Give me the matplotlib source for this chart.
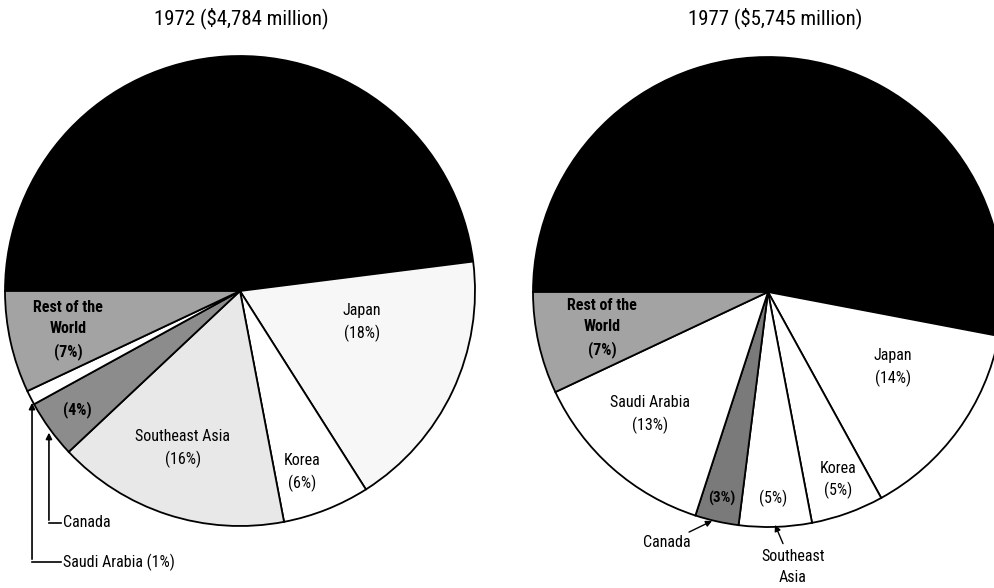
import matplotlib
matplotlib.use("Agg")
import matplotlib.pyplot as plt
from matplotlib import font_manager

# prefer a condensed face if one is installed
cands = ['Liberation Sans Narrow', 'DejaVu Sans Condensed', 'Roboto Condensed', 'Open Sans Condensed']
names = {f.name for f in font_manager.fontManager.ttflist}
fam = [c for c in cands if c in names] + ['DejaVu Sans']
plt.rcParams['font.family'] = fam
plt.rcParams['font.stretch'] = 'condensed'

# ---- data ----
categories = ["Other", "Japan", "Korea", "Southeast Asia", "Canada", "Saudi Arabia", "Rest of the World"]
shares_1972 = [48, 18, 6, 16, 4, 1, 7]
shares_1977 = [53, 14, 5, 5, 3, 13, 7]
title_1972 = "1972 ($4,784 million)"
title_1977 = "1977 ($5,745 million)"

colors_1972 = ["#000000", "#f7f7f7", "#ffffff", "#e8e8e8", "#8c8c8c", "#ffffff", "#a3a3a3"]
colors_1977 = ["#000000", "#ffffff", "#ffffff", "#ffffff", "#7a7a7a", "#ffffff", "#a3a3a3"]

W, H = 995, 588
fig = plt.figure(figsize=(W / 100, H / 100), dpi=100)
R = 235


def make_ax(cx, cy):
    ax = fig.add_axes([(cx - R) / W, (H - cy - R) / H, 2 * R / W, 2 * R / H])
    ax.set_xlim(-1, 1)
    ax.set_ylim(-1, 1)
    ax.set_aspect('equal')
    ax.axis('off')
    return ax


wp = dict(edgecolor='black', linewidth=1.3)
fs = 11.5

# ---- 1972 ----
ax1 = make_ax(240, 291)
ax1.pie(shares_1972, colors=colors_1972, startangle=180, counterclock=False,
        radius=1, wedgeprops=wp, frame=False)
ax1.set_xlim(-1, 1); ax1.set_ylim(-1, 1)
ax1.text(0.519, -0.136, "Japan\n(18%)", ha='center', va='center', fontsize=fs, linespacing=1.5)
ax1.text(0.264, -0.774, "Korea\n(6%)", ha='center', va='center', fontsize=fs, linespacing=1.5)
ax1.text(-0.243, -0.672, "Southeast Asia\n(16%)", ha='center', va='center', fontsize=fs, linespacing=1.5)
ax1.text(-0.694, -0.506, "(4%)", ha='center', va='center', fontsize=fs, fontweight='bold')
ax1.text(-0.732, -0.166, "Rest of the\nWorld\n(7%)", ha='center', va='center', fontsize=fs,
         fontweight='bold', linespacing=1.5)

# Canada callout
ax1.annotate("", xy=(-0.813, -0.591), xytext=(-0.813, -0.987),
             arrowprops=dict(arrowstyle='-|>', color='black', lw=1.2, mutation_scale=9),
             annotation_clip=False)
ax1.plot([-0.813, -0.76], [-0.987, -0.987], color='black', lw=1.2, clip_on=False)
ax1.text(-0.753, -0.987, "Canada", ha='left', va='center', fontsize=fs, clip_on=False)
# Saudi Arabia callout
ax1.annotate("", xy=(-0.885, -0.464), xytext=(-0.885, -1.153),
             arrowprops=dict(arrowstyle='-|>', color='black', lw=1.2, mutation_scale=9),
             annotation_clip=False)
ax1.plot([-0.885, -0.76], [-1.153, -1.153], color='black', lw=1.2, clip_on=False)
ax1.text(-0.753, -1.153, "Saudi Arabia (1%)", ha='left', va='center', fontsize=fs, clip_on=False)

# ---- 1977 ----
ax2 = make_ax(768, 292)
ax2.pie(shares_1977, colors=colors_1977, startangle=180, counterclock=False,
        radius=1, wedgeprops=wp, frame=False)
ax2.set_xlim(-1, 1); ax2.set_ylim(-1, 1)
ax2.text(0.532, -0.323, "Japan\n(14%)", ha='center', va='center', fontsize=fs, linespacing=1.5)
ax2.text(0.298, -0.800, "Korea\n(5%)", ha='center', va='center', fontsize=fs, linespacing=1.5)
ax2.text(0.021, -0.877, "(5%)", ha='center', va='center', fontsize=fs)
ax2.text(-0.195, -0.877, "(3%)", ha='center', va='center', fontsize=fs - 0.5, fontweight='bold')
ax2.text(-0.502, -0.523, "Saudi Arabia\n(13%)", ha='center', va='center', fontsize=fs, linespacing=1.5)
ax2.text(-0.706, -0.153, "Rest of the\nWorld\n(7%)", ha='center', va='center', fontsize=fs,
         fontweight='bold', linespacing=1.5)

ax2.annotate("Canada", xy=(-0.238, -0.974), xytext=(-0.33, -1.068),
             ha='right', va='center', fontsize=fs,
             arrowprops=dict(arrowstyle='-|>', color='black', lw=1.0, mutation_scale=9,
                             shrinkA=1, shrinkB=0),
             annotation_clip=False)
ax2.annotate("Southeast\nAsia", xy=(0.030, -0.991), xytext=(0.106, -1.170),
             ha='center', va='center', fontsize=fs, linespacing=1.5,
             arrowprops=dict(arrowstyle='-|>', color='black', lw=1.0, mutation_scale=9,
                             shrinkA=2, shrinkB=0),
             annotation_clip=False)

# ---- titles ----
fig.text(241 / W, 1 - 18 / H, title_1972, ha='center', va='center', fontsize=15)
fig.text(775 / W, 1 - 18 / H, title_1977, ha='center', va='center', fontsize=15)

fig.savefig("out.png", dpi=100, facecolor='white')
